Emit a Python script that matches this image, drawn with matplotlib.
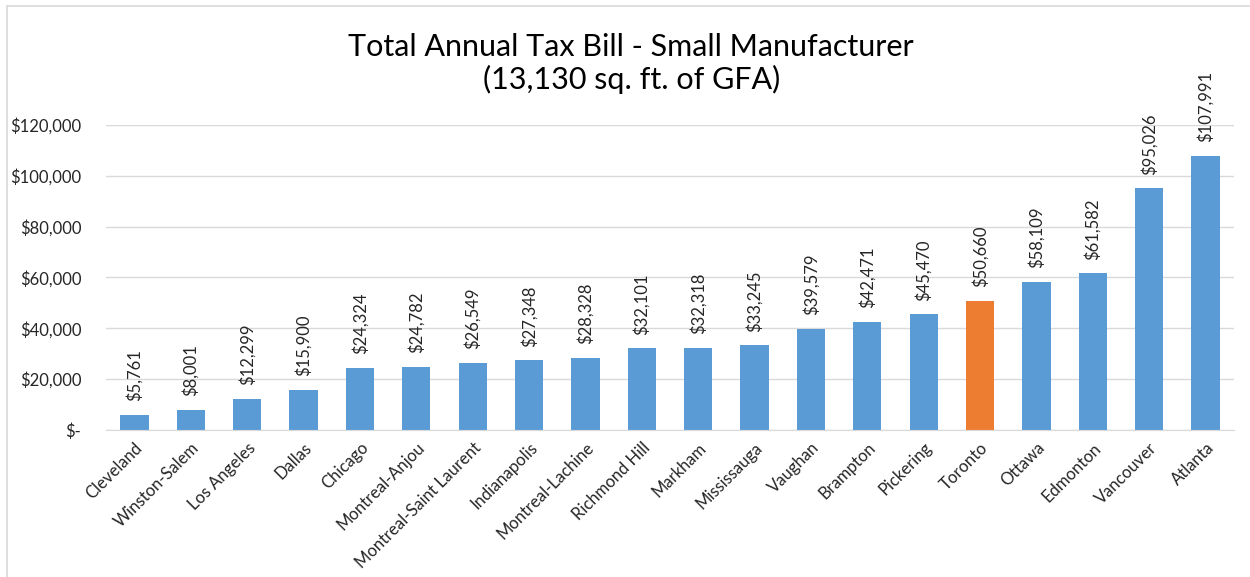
import numpy as np
import matplotlib.pyplot as plt
from matplotlib.ticker import FuncFormatter
from matplotlib.lines import Line2D

plt.rcParams['font.family'] = ['Lato', 'DejaVu Sans']

cities = ['Cleveland', 'Winston-Salem', 'Los Angeles', 'Dallas', 'Chicago',
          'Montreal-Anjou', 'Montreal-Saint Laurent', 'Indianapolis',
          'Montreal-Lachine', 'Richmond Hill', 'Markham', 'Mississauga',
          'Vaughan', 'Brampton', 'Pickering', 'Toronto', 'Ottawa',
          'Edmonton', 'Vancouver', 'Atlanta']
tax_bill = [5761, 8001, 12299, 15900, 24324, 24782, 26549, 27348, 28328,
            32101, 32318, 33245, 39579, 42471, 45470, 50660, 58109, 61582,
            95026, 107991]
highlight = 'Toronto'

blue, orange = '#5B9BD5', '#ED7D31'
colors = [orange if c == highlight else blue for c in cities]

fig = plt.figure(figsize=(12.5, 5.77), dpi=100)
ax = fig.add_axes([0.085, 0.2548, 0.902, 0.5286])

x = np.arange(len(cities))
ax.bar(x, tax_bill, width=0.5, color=colors, zorder=3)

for xi, v in zip(x, tax_bill):
    ax.annotate(f'${v:,}', (xi, v), xytext=(0, 10), textcoords='offset points',
                rotation=90, ha='center', va='bottom', fontsize=12,
                color='#262626')

ax.set_xlim(-0.5, len(cities) - 0.5)
ax.set_ylim(0, 120000)
ax.set_yticks(np.arange(0, 120001, 20000))
ax.yaxis.set_major_formatter(FuncFormatter(
    lambda v, _: '$-' if v == 0 else f'${v:,.0f}'))
ax.grid(axis='y', color='#D9D9D9', linewidth=1, zorder=0)
ax.tick_params(axis='y', length=0, labelsize=12, labelcolor='#262626', pad=18)
ax.tick_params(axis='x', length=0, labelsize=12, labelcolor='#262626', pad=7)
ax.set_xticks(x)
ax.set_xticklabels(cities, rotation=45, ha='right', rotation_mode='anchor')
for s in ['top', 'right', 'left']:
    ax.spines[s].set_visible(False)
ax.spines['bottom'].set_color('#D9D9D9')
ax.spines['bottom'].set_zorder(4)

fig.text(0.505, 0.89, 'Total Annual Tax Bill - Small Manufacturer\n(13,130 sq. ft. of GFA)',
         ha='center', va='center', fontsize=22, color='black', linespacing=1.15)

# chart frame
fig.add_artist(Line2D([0.0056, 0.0056], [0, 0.99], color='#D9D9D9', lw=1.2,
                      transform=fig.transFigure))
fig.add_artist(Line2D([0.0056, 1.0], [0.99, 0.99], color='#D9D9D9', lw=1.2,
                      transform=fig.transFigure))

fig.savefig('out.png', dpi=100)
